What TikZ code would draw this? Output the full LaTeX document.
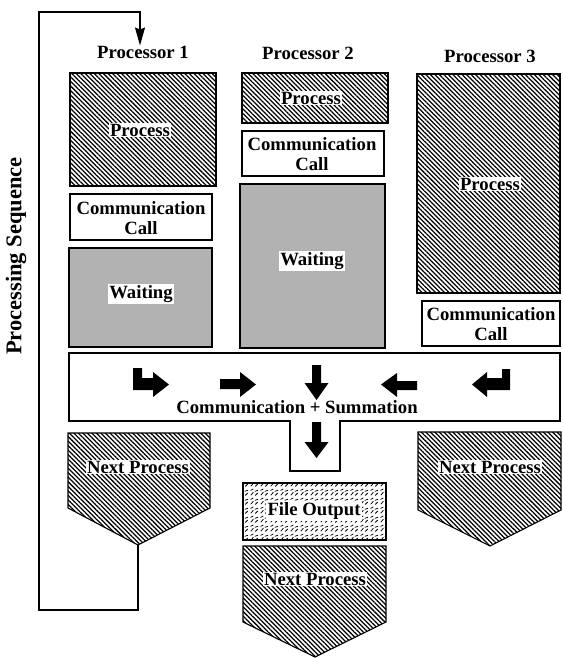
\documentclass[tikz,border=0pt]{standalone}
\usepackage{fontspec}
\setmainfont{Liberation Serif}
\usetikzlibrary{patterns,patterns.meta,arrows.meta}
\tikzdeclarepattern{
  name=fdash,
  type=uncolored,
  bounding box={(0pt,0pt) and (10pt,9pt)},
  tile size={(10pt,9pt)},
  code={
    \draw[line width=0.8pt, line cap=round] (1pt,1pt) -- (3.6pt,4pt)
      (5.5pt,5.2pt) -- (8.6pt,6.2pt)
      (6pt,0.8pt) -- (8.4pt,3.2pt)
      (0.8pt,6.2pt) -- (3.4pt,7.6pt);
  }
}
\newcommand{\myfs}{\fontsize{18.7}{20.5}\selectfont\bfseries}
\tikzset{
  box/.style={draw=black, line width=1.1pt},
  hatch/.style={box, pattern={Lines[angle=-45,distance=3.2pt,line width=1.25pt]}},
  waitfill/.style={box, fill=black!30},
  whitebox/.style={box, fill=white},
  filebox/.style={box, pattern=fdash},
  lab/.style={fill=white, inner sep=1.2pt, font=\myfs, align=center},
  plain/.style={inner sep=0pt, font=\myfs, align=center},
  blockarrow/.style={fill=black, draw=none},
  loopline/.style={line width=1.1pt, -{Stealth[length=18pt,width=10pt,inset=2pt]}}
}
\begin{document}
\begin{tikzpicture}[x=1pt,y=-1pt]
\useasboundingbox (0,0) rectangle (562,658);

% processor headings
\node[plain] (h1) at (143,52) {Processor 1};
\node[plain] (h2) at (308,53) {Processor 2};
\node[plain] (h3) at (490,56) {Processor 3};

% processor 1 column
\path[hatch] (70,73) rectangle (216,186);
\node[lab] (p1) at (140,130) {Process};
\path[whitebox] (70,194) rectangle (212,240);
\node[plain] (c1) at (141,218) {Communication\\Call};
\path[waitfill] (69,248) rectangle (212,347);
\node[lab] (w1) at (141,294) {Waiting};

% processor 2 column
\path[hatch] (242,73) rectangle (388,123);
\node[lab] (p2) at (311,98) {Process};
\path[whitebox] (242,131) rectangle (384,176);
\node[plain] (c2) at (312,154) {Communication\\Call};
\path[waitfill] (240,184) rectangle (385,348);
\node[lab] (w2) at (312,261) {Waiting};

% processor 3 column
\path[hatch] (417,74) rectangle (560,293);
\node[lab] (p3) at (490,184) {Process};
\path[whitebox] (422,301) rectangle (560,346);
\node[plain] (c3) at (491,324) {Communication\\Call};

% communication bar with stem
\path[whitebox] (69,353) -- (560,353) -- (560,421) -- (340,421) -- (340,471)
  -- (290,471) -- (290,421) -- (69,421) -- cycle;
\node[plain] (cs) at (297,407) {Communication + Summation};

% block arrows
\fill[blockarrow] (133,368) -- (142,368) -- (142,378) -- (153,378) -- (153,372)
  -- (169,384.5) -- (153,397) -- (153,390) -- (133,390) -- cycle;
\fill[blockarrow] (220,379) -- (240,379) -- (240,372) -- (256,384.5) -- (240,397)
  -- (240,389) -- (220,389) -- cycle;
\fill[blockarrow] (312,365) -- (321,365) -- (321,383) -- (328.5,383) -- (316.5,400)
  -- (304.5,383) -- (312,383) -- cycle;
\fill[blockarrow] (417,381) -- (397,381) -- (397,373) -- (381,384.5) -- (397,397)
  -- (397,390) -- (417,390) -- cycle;
\fill[blockarrow] (510,369) -- (502,369) -- (502,378) -- (487,378) -- (487,372)
  -- (472,384.5) -- (487,397) -- (487,390) -- (510,390) -- cycle;
\fill[blockarrow] (312,422) -- (321,422) -- (321,442) -- (328.5,442) -- (316.5,458)
  -- (304.5,442) -- (312,442) -- cycle;

% next process 1
\path[hatch] (68,433) -- (210,433) -- (210,508) -- (138,545) -- (68,508) -- cycle;
\coordinate (np1tip) at (138,545);
\node[lab] (n1) at (138,467) {Next Process};

% next process 3
\path[hatch] (418,432) -- (561,432) -- (561,510) -- (490,546) -- (418,510) -- cycle;
\node[lab] (n3) at (490,467) {Next Process};

% file output + next process 2
\path[filebox] (243,483) rectangle (386,540);
\node[lab] (fo) at (314,511) {File Output};
\path[hatch] (243,546) -- (386,546) -- (386,622) -- (315,657) -- (243,622) -- cycle;
\node[lab] (n2) at (315,579) {Next Process};

% processing sequence loop
\node[inner sep=0pt, font=\fontsize{22.5}{24}\selectfont\bfseries, rotate=90] (ps) at (16,256) {Processing Sequence};
\coordinate (loopBL) at (39,610);
\coordinate (loopTL) at (39,12);
\coordinate (loopEnd) at (140,45.5);
\draw[loopline] (np1tip) |- (loopBL) -- (loopTL) -| (loopEnd);
\end{tikzpicture}
\end{document}
